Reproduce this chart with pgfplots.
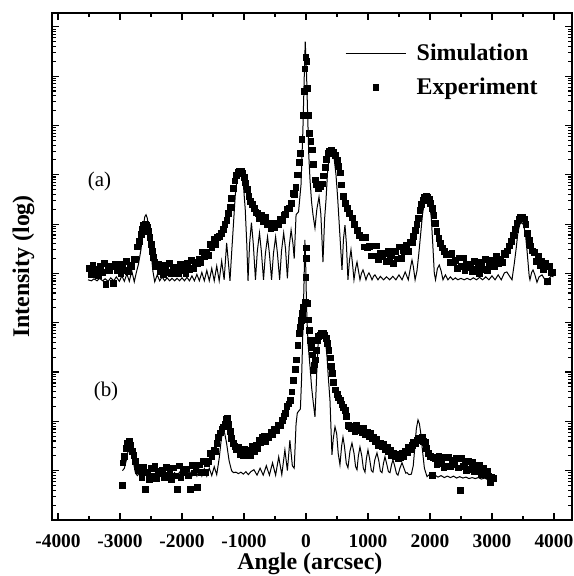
\documentclass[border=0pt]{standalone}
\usepackage{pgfplots}
\pgfplotsset{compat=1.18}
\usepackage{fontspec}
\setmainfont{Liberation Serif}

\pgfplotstableread{
x y
-3516 4.87
-3460 4.85
-3420 4.89
-3370 4.85
-3330 4.90
-3280 4.85
-3240 4.89
-3190 4.84
-3150 4.91
-3100 4.85
-3060 4.93
-3010 4.84
-2970 4.95
-2930 4.84
-2890 4.99
-2850 4.84
-2810 5.05
-2770 4.83
-2740 5.00
-2700 5.20
-2660 5.50
-2630 5.90
-2600 6.15
-2580 6.19
-2560 6.12
-2530 5.85
-2500 5.45
-2470 5.05
-2440 4.83
-2400 4.97
-2360 4.85
-2320 4.93
-2280 4.85
-2240 4.91
-2200 4.85
-2160 4.90
-2120 4.85
-2080 4.90
-2040 4.85
-2000 4.91
-1960 4.85
-1920 4.92
-1880 4.85
-1840 4.95
-1800 4.85
-1760 4.98
-1720 4.85
-1680 5.02
-1640 4.85
-1600 5.06
-1560 4.85
-1520 5.10
-1480 4.85
-1440 5.15
-1400 4.85
-1360 5.25
-1320 4.87
-1280 5.62
-1250 5.20
-1226 4.85
-1200 5.40
-1170 6.00
-1140 6.60
-1110 6.92
-1080 7.05
-1060 7.07
-1040 7.02
-1010 6.80
-980 6.30
-955 5.60
-935 4.85
-910 5.60
-880 6.03
-850 5.60
-815 4.87
-785 5.45
-750 5.82
-720 5.45
-685 4.87
-655 5.40
-620 5.74
-590 5.40
-555 4.87
-525 5.40
-490 5.74
-460 5.40
-425 4.87
-395 5.45
-360 5.82
-330 5.50
-300 4.90
-270 5.55
-240 5.88
-210 5.60
-190 5.30
-160 6.19
-120 6.25
-80 6.80
-50 7.90
-30 8.90
-12 9.70
10 9.00
25 8.30
45 7.40
65 6.90
90 6.45
113 6.19
145 5.92
175 6.30
210 6.55
240 6.20
274 5.23
300 6.10
323 6.49
350 7.10
380 7.38
419 7.46
450 7.38
484 7.00
510 6.55
532 6.09
560 5.50
581 5.07
605 5.70
629 5.98
652 5.60
677 4.87
700 5.25
726 5.48
750 5.20
774 4.87
800 5.10
823 5.23
847 5.05
871 4.87
895 5.00
919 5.07
943 4.98
968 4.87
992 4.96
1016 5.01
1040 4.95
1065 4.87
1090 4.94
1113 4.97
1137 4.92
1161 4.87
1200 4.94
1250 4.87
1300 4.93
1350 4.87
1400 4.94
1450 4.87
1500 4.97
1550 4.87
1600 5.03
1650 4.87
1690 5.15
1710 5.27
1730 5.15
1760 4.87
1790 5.05
1820 5.40
1850 5.80
1880 6.20
1910 6.45
1952 6.55
1990 6.45
2020 6.15
2045 5.60
2070 5.00
2090 4.87
2120 5.10
2150 5.17
2180 5.05
2210 4.87
2250 4.97
2290 4.87
2330 4.93
2370 4.87
2410 4.91
2450 4.87
2500 4.90
2550 4.87
2600 4.90
2650 4.87
2700 4.91
2750 4.87
2800 4.92
2850 4.87
2900 4.93
2950 4.87
3000 4.95
3050 4.87
3100 4.97
3150 4.87
3200 5.01
3240 5.03
3280 4.95
3323 4.87
3360 5.20
3390 5.50
3420 5.85
3450 6.00
3484 6.03
3510 5.98
3540 5.80
3570 5.40
3600 4.95
3613 4.87
3640 5.02
3662 5.07
3690 4.98
3726 4.82
3760 4.93
3807 4.97
3850 4.88
3887 4.78
3920 4.90
3960 4.95
3990 4.93
}\simA

\pgfplotstableread{
x y
-3500 5.10
-3470 4.98
-3440 5.16
-3410 5.03
-3380 5.08
-3350 4.97
-3320 5.15
-3290 5.02
-3260 5.20
-3230 4.78
-3200 5.11
-3170 5.07
-3140 5.14
-3110 4.80
-3080 5.19
-3050 5.07
-3020 5.12
-2990 5.00
-2960 5.19
-2930 5.06
-2900 5.24
-2870 5.04
-2840 5.17
-2810 5.15
-2780 5.30
-2750 5.28
-2720 5.54
-2690 5.65
-2660 5.80
-2640 5.90
-2620 5.97
-2600 6.00
-2580 5.98
-2560 5.93
-2540 5.85
-2520 5.74
-2500 5.60
-2480 5.45
-2460 5.33
-2440 5.22
-2420 5.15
-2390 5.18
-2360 5.05
-2330 5.10
-2300 4.98
-2270 5.16
-2240 5.03
-2210 5.20
-2180 5.00
-2150 5.11
-2120 5.07
-2090 5.13
-2060 5.01
-2030 5.19
-2000 5.06
-1970 5.12
-1940 5.00
-1910 5.20
-1880 5.08
-1850 5.27
-1820 5.10
-1790 5.23
-1760 5.21
-1730 5.30
-1700 5.23
-1670 5.44
-1640 5.35
-1610 5.44
-1580 5.37
-1550 5.60
-1520 5.52
-1490 5.70
-1460 5.60
-1430 5.73
-1400 5.75
-1370 5.82
-1340 5.90
-1310 6.00
-1280 6.08
-1250 6.22
-1225 6.35
-1200 6.52
-1175 6.72
-1150 6.88
-1125 6.99
-1100 7.05
-1075 7.08
-1050 7.07
-1025 7.03
-1000 6.95
-975 6.84
-950 6.70
-925 6.57
-900 6.47
-870 6.40
-840 6.33
-810 6.24
-780 6.22
-750 6.11
-720 6.18
-690 6.05
-660 6.14
-630 5.99
-600 6.02
-570 5.92
-540 6.01
-510 5.93
-480 6.03
-450 5.99
-420 6.10
-390 6.08
-360 6.19
-330 6.20
-300 6.31
-270 6.33
-240 6.42
-215 6.62
-190 6.60
-165 6.75
-140 7.00
-115 7.25
-95 7.44
-70 7.72
-50 8.20
-35 8.70
-20 9.15
-5 9.38
10 9.30
25 8.75
40 8.20
55 7.85
75 7.68
97 7.51
120 7.22
145 6.90
170 6.80
194 6.73
225 6.76
258 6.82
282 6.98
306 7.16
330 7.32
355 7.44
380 7.48
410 7.49
440 7.46
470 7.40
500 7.30
525 7.18
548 7.04
570 6.80
597 6.56
630 6.42
661 6.33
700 6.22
742 6.13
780 6.00
823 5.88
860 5.78
900 5.73
930 5.54
960 5.73
990 5.52
1020 5.55
1050 5.36
1080 5.56
1110 5.36
1140 5.56
1170 5.29
1200 5.41
1230 5.34
1260 5.41
1290 5.24
1320 5.45
1350 5.28
1380 5.36
1410 5.21
1440 5.45
1470 5.30
1500 5.54
1530 5.31
1560 5.47
1590 5.45
1620 5.57
1650 5.45
1680 5.63
1710 5.64
1735 5.75
1760 5.88
1785 6.00
1810 6.12
1835 6.28
1860 6.40
1885 6.49
1910 6.54
1935 6.56
1960 6.55
1985 6.50
2010 6.42
2035 6.32
2060 6.18
2085 6.02
2110 5.86
2140 5.72
2170 5.61
2200 5.52
2230 5.45
2260 5.38
2290 5.39
2320 5.23
2350 5.41
2380 5.23
2410 5.27
2440 5.11
2470 5.32
2500 5.14
2530 5.32
2560 5.07
2590 5.19
2620 5.13
2650 5.19
2680 5.04
2710 5.24
2740 5.08
2770 5.14
2800 5.00
2830 5.23
2860 5.08
2890 5.29
2920 5.06
2950 5.21
2980 5.18
3010 5.27
3040 5.14
3070 5.35
3100 5.20
3130 5.28
3160 5.22
3190 5.42
3220 5.38
3250 5.46
3280 5.56
3310 5.66
3340 5.78
3370 5.90
3400 6.02
3430 6.10
3460 6.14
3490 6.15
3520 6.11
3545 6.00
3570 5.82
3595 5.68
3620 5.56
3650 5.46
3680 5.43
3710 5.25
3740 5.35
3770 5.17
3800 5.25
3830 5.09
3860 5.20
3890 4.85
3920 5.14
3950 5.03
3980 5.02
}\expA

\pgfplotstableread{
x y
-2960 1.00
-2930 1.05
-2900 1.20
-2870 1.40
-2840 1.48
-2810 1.40
-2780 1.15
-2750 0.95
-2720 0.90
-2680 0.96
-2640 0.89
-2600 0.95
-2560 0.89
-2520 0.94
-2480 0.89
-2440 0.94
-2400 0.89
-2360 0.94
-2320 0.89
-2280 0.95
-2240 0.89
-2200 0.95
-2160 0.89
-2120 0.96
-2080 0.89
-2040 0.97
-2000 0.89
-1960 0.98
-1920 0.89
-1880 0.99
-1840 0.89
-1800 1.00
-1760 0.89
-1720 1.02
-1680 0.89
-1640 1.04
-1600 0.89
-1560 1.05
-1520 0.90
-1480 1.08
-1440 0.92
-1400 1.25
-1370 1.60
-1340 1.83
-1310 1.75
-1280 1.55
-1240 1.20
-1200 1.00
-1170 0.96
-1130 0.97
-1090 0.94
-1050 0.97
-1010 0.93
-970 0.98
-930 0.92
-890 0.98
-840 1.02
-790 0.91
-740 1.05
-690 0.91
-640 1.10
-590 0.91
-540 1.16
-490 0.91
-440 1.28
-390 0.92
-340 1.42
-300 1.00
-260 1.62
-220 1.10
-190 1.05
-160 1.95
-140 2.17
-110 2.22
-90 2.25
-70 2.90
-55 3.60
-45 4.12
-30 4.90
-18 5.68
-5 5.20
8 4.40
16 4.06
35 3.55
65 3.11
90 2.70
113 2.43
145 2.09
165 2.70
177 3.11
195 3.55
210 3.79
235 3.83
258 3.81
285 3.76
306 3.71
325 3.50
339 3.31
360 2.90
387 2.43
405 1.80
419 1.32
440 1.65
468 1.89
495 1.75
520 1.35
548 1.12
575 1.50
597 1.68
620 1.50
650 1.15
677 1.06
710 1.40
742 1.56
775 1.35
800 1.08
823 1.02
845 1.30
871 1.48
900 1.30
925 1.05
952 0.97
975 1.25
1000 1.42
1025 1.25
1055 1.00
1081 0.97
1110 1.22
1145 1.36
1175 1.20
1200 0.99
1226 0.96
1250 1.15
1274 1.28
1300 1.15
1330 0.98
1355 0.96
1380 1.12
1403 1.22
1430 1.10
1460 0.94
1484 0.91
1515 1.05
1549 1.16
1580 1.05
1610 0.95
1629 0.96
1660 0.92
1700 0.93
1730 1.10
1758 1.50
1780 1.85
1807 2.03
1830 1.95
1850 1.77
1880 1.40
1910 1.05
1952 0.88
1990 0.92
2030 0.88
2080 0.91
2130 0.87
2180 0.90
2230 0.86
2280 0.89
2330 0.86
2380 0.89
2430 0.85
2480 0.88
2530 0.85
2580 0.87
2630 0.84
2680 0.86
2730 0.84
2780 0.86
2830 0.83
2880 0.85
2930 0.82
2980 0.83
3016 0.78
}\simB

\pgfplotstableread{
x y
-2970 0.71
-2955 1.16
-2935 1.30
-2905 1.45
-2880 1.56
-2855 1.60
-2830 1.52
-2805 1.40
-2780 1.32
-2755 1.20
-2730 1.08
-2705 1.00
-2680 1.01
-2650 0.87
-2620 1.07
-2590 0.62
-2560 0.97
-2530 0.83
-2500 1.05
-2470 0.89
-2440 1.09
-2410 0.85
-2380 0.99
-2350 0.94
-2320 1.01
-2290 0.87
-2260 1.07
-2230 0.91
-2200 0.97
-2170 0.83
-2140 1.06
-2110 0.90
-2080 0.62
-2050 1.10
-2020 0.86
-1990 1.01
-1960 0.96
-1930 1.04
-1900 0.90
-1870 0.63
-1840 1.11
-1810 0.96
-1780 1.02
-1750 0.66
-1720 1.12
-1690 0.97
-1660 1.19
-1630 0.97
-1600 1.14
-1570 1.20
-1548 1.36
-1520 1.30
-1490 1.42
-1468 1.40
-1440 1.55
-1410 1.68
-1387 1.77
-1360 1.85
-1339 1.89
-1310 1.95
-1290 2.05
-1270 2.07
-1250 1.95
-1226 1.80
-1200 1.66
-1177 1.56
-1150 1.50
-1120 1.44
-1097 1.47
-1070 1.34
-1040 1.44
-1016 1.32
-990 1.44
-960 1.32
-930 1.42
-903 1.32
-870 1.49
-840 1.40
-810 1.51
-790 1.45
-760 1.61
-735 1.57
-710 1.68
-680 1.70
-655 1.60
-629 1.71
-600 1.67
-570 1.79
-540 1.73
-510 1.85
-480 1.81
-450 1.92
-419 1.92
-390 2.02
-360 2.10
-339 2.17
-310 2.30
-280 2.36
-258 2.43
-230 2.60
-210 2.84
-180 3.05
-155 3.25
-135 3.55
-115 3.78
-97 3.92
-80 4.05
-65 4.20
-40 4.32
-16 4.42
-5 4.93
0 5.31
5 5.52
16 4.40
32 4.06
50 3.85
65 3.65
80 3.50
97 3.35
113 3.04
130 3.15
145 3.25
160 3.45
177 3.65
200 3.72
226 3.75
250 3.78
274 3.79
300 3.75
320 3.68
339 3.59
365 3.45
387 3.29
405 3.12
419 2.98
440 2.80
468 2.64
500 2.55
525 2.48
548 2.43
575 2.35
600 2.28
629 2.23
655 2.10
677 1.93
700 1.90
730 1.86
758 1.87
785 1.80
815 1.92
845 1.82
871 1.87
900 1.78
930 1.86
960 1.74
984 1.79
1010 1.70
1040 1.77
1060 1.66
1081 1.68
1110 1.60
1140 1.65
1170 1.52
1194 1.56
1220 1.50
1250 1.53
1280 1.44
1307 1.48
1330 1.40
1360 1.42
1380 1.32
1403 1.36
1430 1.30
1460 1.34
1490 1.25
1516 1.28
1545 1.35
1575 1.30
1600 1.40
1629 1.38
1655 1.47
1680 1.44
1710 1.52
1735 1.58
1760 1.55
1790 1.62
1815 1.66
1840 1.62
1871 1.68
1895 1.60
1920 1.58
1945 1.45
1968 1.36
2000 1.30
2032 0.91
2049 1.28
2080 1.26
2110 1.12
2140 1.29
2161 1.14
2190 1.21
2220 1.07
2250 1.27
2274 1.10
2300 1.28
2330 1.08
2360 1.22
2390 1.13
2420 1.25
2450 1.06
2484 0.61
2500 1.26
2530 1.09
2560 1.14
2590 1.01
2620 1.20
2650 1.03
2680 1.18
2710 0.99
2740 1.12
2770 1.03
2800 1.11
2830 0.93
2860 1.05
2890 0.95
2920 1.00
2945 0.90
2968 0.77
2990 0.86
3016 0.85
}\expB

\begin{document}
\begin{tikzpicture}
\begin{axis}[
  scale only axis, width=520bp, height=507bp,
  xmin=-4097, xmax=4291, ymin=0, ymax=10.28,
  xtick={-4000,-3000,...,4000},
  xticklabels={-4000,-3000,-2000,-1000,0,1000,2000,3000,4000},
  minor x tick num=1,
  ytick={0,1,...,10}, yticklabels={},
  minor ytick={0.30103,1.30103,...,9.30103,0.47712,1.47712,...,9.47712,0.60206,1.60206,...,9.60206,0.69897,1.69897,...,9.69897,0.77815,1.77815,...,9.77815,0.84510,1.84510,...,9.84510,0.90309,1.90309,...,9.90309,0.95424,1.95424,...,9.95424},
  tick align=inside,
  major tick length=7bp, minor tick length=4bp,
  tick style={black, line width=1.1bp},
  axis line style={line width=1.6bp},
  xticklabel style={font=\fontsize{19.5}{19.5}\selectfont\bfseries, anchor=base, yshift=-27bp},
  xlabel={Angle (arcsec)}, ylabel={Intensity (log)},
  xlabel style={font=\fontsize{24}{24}\selectfont\bfseries, at={(axis description cs:0.496,-0.0986)}, anchor=base},
  ylabel style={font=\fontsize{24}{24}\selectfont\bfseries, at={(axis description cs:-0.055,0.5)}, anchor=center},
  legend style={draw=none, fill=none, at={(axis description cs:0.5635,0.943)}, anchor=north west,
    font=\fontsize{24}{24}\selectfont\bfseries, row sep=12bp, inner sep=0pt},
  legend cell align=left,
  legend image code/.code={\draw[mark repeat=2,mark phase=2,#1] plot coordinates {(0bp,0bp)(30bp,0bp)(60bp,0bp)}; \path[draw=none,fill=none] (0bp,0bp) (69bp,0bp);},
]
\addplot[black, line width=1.0bp, no marks] table[x=x,y=y] {\simA};
\addlegendentry{Simulation}
\addplot[black, only marks, mark=square*, mark size=2.9bp] table[x=x,y=y] {\expA};
\addlegendentry{Experiment}
\addplot[black, line width=1.0bp, no marks, forget plot] table[x=x,y=y] {\simB};
\addplot[black, only marks, mark=square*, mark size=2.9bp, forget plot] table[x=x,y=y] {\expB};
\node[font=\fontsize{21}{21}\selectfont] at (axis cs:-3331,6.86) {(a)};
\node[font=\fontsize{21}{21}\selectfont] at (axis cs:-3226,2.60) {(b)};
\end{axis}
\pgfresetboundingbox
\path[use as bounding box] ([shift={(-52bp,-56bp)}]current axis.south west) rectangle ([shift={(2bp,13bp)}]current axis.north east);
\end{tikzpicture}
\end{document}
